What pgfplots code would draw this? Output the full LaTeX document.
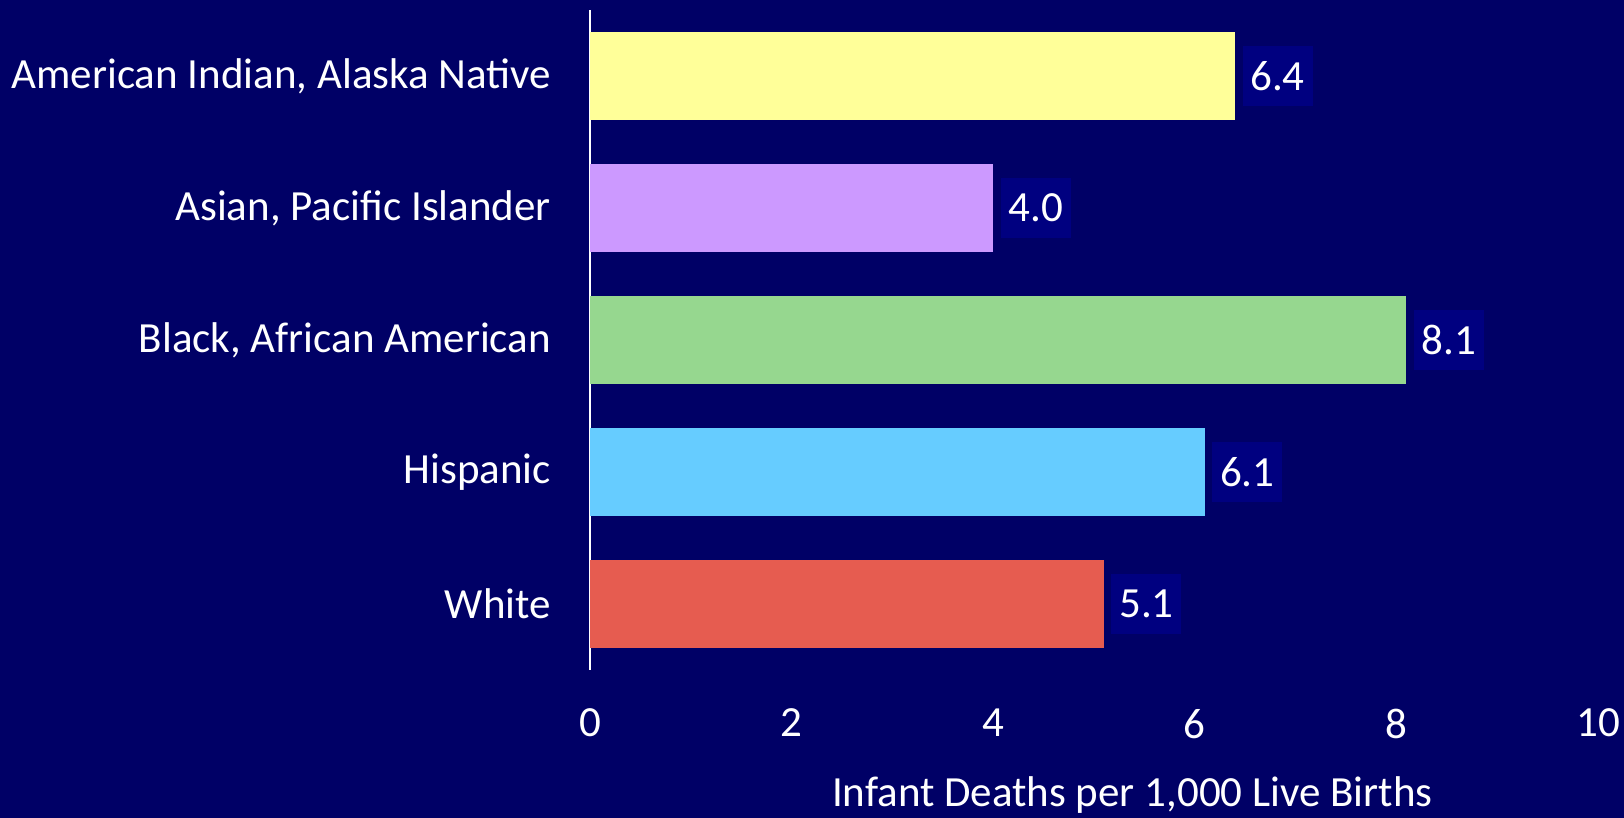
\documentclass[border=0pt]{standalone}
\usepackage{pgfplots}
\pgfplotsset{compat=1.18}
\usepackage{fontspec}
\setmainfont{Carlito}
\definecolor{bgnavy}{RGB}{0,0,102}
\definecolor{boxnavy}{RGB}{0,0,128}
\definecolor{cyellow}{RGB}{255,255,153}
\definecolor{cpurple}{RGB}{204,153,255}
\definecolor{cgreen}{RGB}{150,215,143}
\definecolor{cblue}{RGB}{102,204,255}
\definecolor{cred}{RGB}{230,92,80}
\begin{document}
\begin{tikzpicture}
\useasboundingbox (0,0) rectangle (812pt,409pt);
\fill[bgnavy] (0,0) rectangle (812pt,409pt);
\begin{axis}[
  at={(295pt,74pt)}, anchor=south west,
  scale only axis, width=504pt, height=330pt,
  xmin=0, xmax=10, ymin=-0.5, ymax=4.5,
  xtick={0,2,...,10}, ytick={0,...,4},
  yticklabels={White,Hispanic,{Black, African American},{Asian, Pacific Islander},{American Indian, Alaska Native}},
  axis lines=left, axis line style={-},
  x axis line style={draw=none},
  y axis line style={white, line width=1.2pt},
  major tick length=0pt,
  tick label style={text=white, font=\fontsize{21.5}{26}\selectfont},
  xticklabel style={yshift=-16pt},
  yticklabel style={xshift=-16pt},
  /pgf/number format/assume math mode=true,
  xlabel={Infant Deaths per 1,000 Live Births},
  xlabel style={at={(rel axis cs:0.538,0)}, anchor=center, yshift=-62.5pt, text=white, font=\fontsize{21.5}{26}\selectfont},
  xbar, bar width=0.66, bar shift=0pt,
  nodes near coords,
  nodes near coords style={anchor=west, xshift=3.5pt, fill=boxnavy, text=white,
    minimum width=35pt, minimum height=30pt, inner sep=0pt,
    font=\fontsize{21.5}{26}\selectfont,
    /pgf/number format/.cd, fixed, fixed zerofill, precision=1, assume math mode=true},
  clip=false,
]
\addplot[draw=none, fill=cyellow] coordinates {(6.4,4)};
\addplot[draw=none, fill=cpurple] coordinates {(4.0,3)};
\addplot[draw=none, fill=cgreen] coordinates {(8.1,2)};
\addplot[draw=none, fill=cblue] coordinates {(6.1,1)};
\addplot[draw=none, fill=cred] coordinates {(5.1,0)};
\end{axis}
\end{tikzpicture}
\end{document}
